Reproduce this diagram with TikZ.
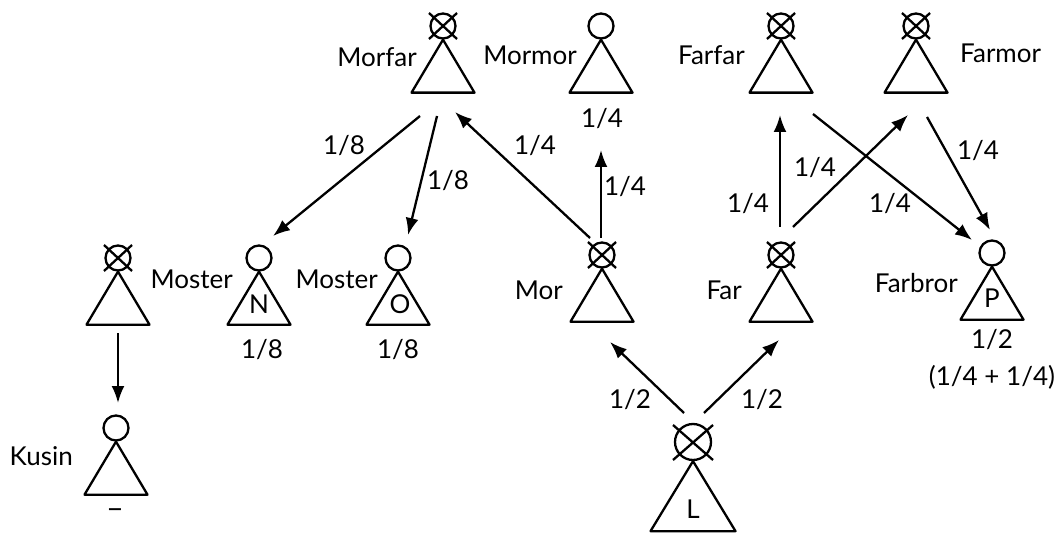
\documentclass[tikz,border=0pt]{standalone}
\usepackage{fontspec}
\setmainfont{Lato}
\usetikzlibrary{arrows.meta}
\tikzset{
  lw/.style={line width=2.3pt},
  head/.style={circle,draw,lw,minimum size=25pt,inner sep=0pt},
  bighead/.style={circle,draw,lw,minimum size=36pt,inner sep=0pt},
  tri/.style={draw,lw,line join=round},
  arr/.style={lw,-{Latex[length=17pt,width=13pt]}},
  lbl/.style={font=\fontsize{26}{30}\selectfont,inner sep=0pt},
}
\newcommand{\pers}[3]{%
  \node[head] (#1) at (#2,#3) {};
  \draw[tri] (#1.south) -- ++(-31.5,53) -- ++(63,0) -- cycle;
}
\newcommand{\xmark}[1]{%
  \draw[lw] (#1.center) +(-14,-13) -- +(14,13) (#1.center) +(-14,13) -- +(14,-13);
}
\begin{document}
\begin{tikzpicture}[x=1pt,y=-1pt]
\useasboundingbox (0,0) rectangle (1056,534);
% persons
\pers{morfar}{443}{26} \xmark{morfar}
\pers{mormor}{601}{26}
\pers{farfar}{781}{26} \xmark{farfar}
\pers{farmor}{916}{26} \xmark{farmor}
\pers{onkel}{118}{258} \xmark{onkel}
\pers{mosterN}{259}{258}
\pers{mosterO}{398}{258}
\pers{mor}{602}{255} \xmark{mor}
\pers{far}{781}{255} \xmark{far}
\pers{farbror}{992}{253}
\pers{kusin}{116}{428}
\node[bighead] (L) at (693,442) {};
\draw[tri] (L.south) -- ++(-42.5,70) -- ++(85,0) -- cycle;
\draw[lw] (L.center) +(-20,-17) -- +(20,18) (L.center) +(-20,18) -- +(20,-17);
% names
\node[lbl,anchor=base east] (tMorfar) at (417,67) {Morfar};
\node[lbl,anchor=base east] (tMormor) at (577,65) {Mormor};
\node[lbl,anchor=base east] (tFarfar) at (745,65) {Farfar};
\node[lbl,anchor=base west] (tFarmor) at (960,63) {Farmor};
\node[lbl,anchor=base east] (tMosterN) at (233,288) {Moster};
\node[lbl,anchor=base east] (tMosterO) at (378,288) {Moster};
\node[lbl,anchor=base east] (tMor) at (563,299) {Mor};
\node[lbl,anchor=base east] (tFar) at (742,299) {Far};
\node[lbl,anchor=base east] (tFarbror) at (958,293) {Farbror};
\node[lbl,anchor=base east] (tKusin) at (73,465) {Kusin};
\node[lbl,anchor=base] (tN) at (259,313) {N};
\node[lbl,anchor=base] (tO) at (400,313) {O};
\node[lbl,anchor=base] (tP) at (992,307) {P};
\node[lbl,anchor=base] (tL) at (693,518) {L};
% shares
\node[lbl,anchor=base] (sMormor) at (602,128) {1/4};
\node[lbl,anchor=base] (sN) at (262,358) {1/8};
\node[lbl,anchor=base] (sO) at (398,358) {1/8};
\node[lbl,anchor=base] (sP) at (992,348) {1/2};
\node[lbl,anchor=base] (sP2) at (992,385) {(1/4 + 1/4)};
\node[lbl,anchor=base,font=\fontsize{30}{32}\selectfont] (sKusin) at (115,518) {–};
% arrow end points
\coordinate (m1) at (420,116); \coordinate (n1) at (273,236);
\coordinate (m2) at (437,116); \coordinate (o1) at (408,235);
\coordinate (r1) at (590,238); \coordinate (mf1) at (455,112);
\coordinate (r2) at (601,238); \coordinate (mm1) at (601,150);
\coordinate (f1) at (780,227); \coordinate (ff1) at (780,115);
\coordinate (f2) at (793,227); \coordinate (fm1) at (908,115);
\coordinate (ff2) at (813,114); \coordinate (p1) at (972,240);
\coordinate (fm2) at (927,117); \coordinate (p2) at (990,230);
\coordinate (u1) at (118,333); \coordinate (k1) at (118,403);
\coordinate (l1) at (684,413); \coordinate (r3) at (610,342);
\coordinate (l2) at (704,413); \coordinate (f3) at (779,340);
% arrows
\draw[arr] (m1) -- (n1);
\draw[arr] (m2) -- (o1);
\draw[arr] (r1) -- (mf1);
\draw[arr] (r2) -- (mm1);
\draw[arr] (f1) -- (ff1);
\draw[arr] (f2) -- (fm1);
\draw[arr] (ff2) -- (p1);
\draw[arr] (fm2) -- (p2);
\draw[arr] (u1) -- (k1);
\draw[arr] (l1) -- (r3);
\draw[arr] (l2) -- (f3);
% edge labels
\node[lbl,anchor=base] (e1) at (344,155) {1/8};
\node[lbl,anchor=base] (e2) at (448,190) {1/8};
\node[lbl,anchor=base] (e3) at (535,155) {1/4};
\node[lbl,anchor=base] (e4) at (625,196) {1/4};
\node[lbl,anchor=base] (e5) at (748,213) {1/4};
\node[lbl,anchor=base] (e6) at (815,177) {1/4};
\node[lbl,anchor=base] (e7) at (890,213) {1/4};
\node[lbl,anchor=base] (e8) at (978,160) {1/4};
\node[lbl,anchor=base] (e9) at (630,408) {1/2};
\node[lbl,anchor=base] (e10) at (762,408) {1/2};
\end{tikzpicture}
\end{document}
